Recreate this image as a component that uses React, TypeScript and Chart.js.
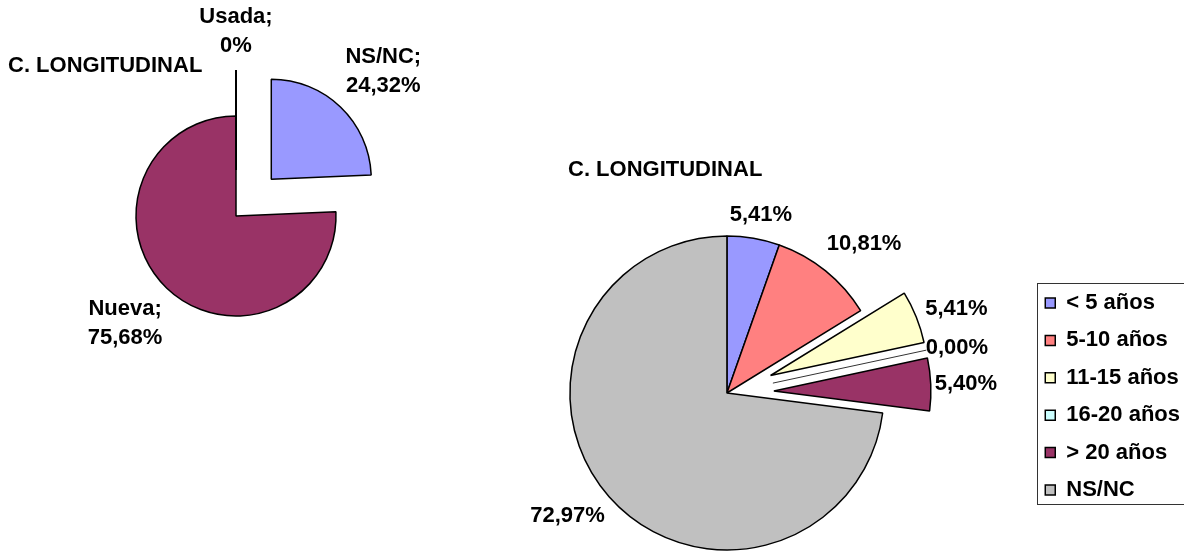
import React, { useEffect, useRef } from "react";
import { Chart, registerables } from "chart.js";

Chart.register(...registerables);

const FONT_FAMILY = "'Liberation Sans', Arial, Helvetica, sans-serif";

// ---- Left pie data ----
const leftTitle = "C. LONGITUDINAL";
const leftCategories = ["Usada", "NS/NC", "Nueva"];
const leftValues = [0, 24.32, 75.68];

// ---- Right pie data ----
const rightTitle = "C. LONGITUDINAL";
const rightCategories = ["< 5 años", "5-10 años", "11-15 años", "16-20 años", "> 20 años", "NS/NC"];
const rightValues = [5.41, 10.81, 5.41, 0, 5.4, 72.97];

// ---- Styles ----
const leftStyle = {
  colors: ["#CCFFFF", "#9999FF", "#993366"],
  explode: [46, 51, 0],
  gaps: [13, 24, 23],
};
const rightStyle = {
  colors: ["#9999FF", "#FF8080", "#FFFFCC", "#CCFFFF", "#993366", "#C0C0C0"],
  explode: [0, 0, 47, 47, 47, 0],
  gaps: [13, 24, 12, 0, 4, 18],
};

const fmtNum = (v: number) => v.toFixed(2).replace(".", ",") + "%";
const leftFormatter = (cat: string, v: number) => [cat + ";", v === 0 ? "0%" : fmtNum(v)];
const rightFormatter = (_cat: string, v: number) => [fmtNum(v)];

const pieExtras = {
  id: "pieExtras",
  afterDatasetsUpdate(chart: any, _args: any, opts: any) {
    const meta = chart.getDatasetMeta(0);
    const ex = opts.explode || [];
    meta.data.forEach((arc: any, i: number) => {
      const d = ex[i] || 0;
      if (!d) return;
      const mid = (arc.startAngle + arc.endAngle) / 2;
      arc.x += Math.cos(mid) * d;
      arc.y += Math.sin(mid) * d;
    });
  },
  afterDatasetsDraw(chart: any, _args: any, opts: any) {
    const ctx = chart.ctx;
    const meta = chart.getDatasetMeta(0);
    const values = chart.data.datasets[0].data as number[];
    const labels = chart.data.labels as string[];
    const ex = opts.explode || [];
    const gaps = opts.gaps || [];
    const ca = chart.chartArea;
    const cx = (ca.left + ca.right) / 2;
    const cy = (ca.top + ca.bottom) / 2;
    ctx.save();
    // zero-size exploded slices drawn as radial lines
    meta.data.forEach((arc: any, i: number) => {
      if (values[i] !== 0 || !ex[i]) return;
      const a = arc.startAngle;
      ctx.beginPath();
      ctx.moveTo(arc.x, arc.y);
      ctx.lineTo(arc.x + Math.cos(a) * arc.outerRadius, arc.y + Math.sin(a) * arc.outerRadius);
      ctx.strokeStyle = opts.zeroLineColor;
      ctx.lineWidth = opts.zeroLineWidth;
      ctx.stroke();
    });
    // data labels
    ctx.font = `bold ${opts.fontSize}px ${FONT_FAMILY}`;
    ctx.fillStyle = "#000";
    ctx.textAlign = "center";
    ctx.textBaseline = "middle";
    meta.data.forEach((arc: any, i: number) => {
      const lines: string[] = opts.formatter(labels[i], values[i]);
      const mid = (arc.startAngle + arc.endAngle) / 2;
      const dx = Math.cos(mid);
      const dy = Math.sin(mid);
      const dist = (ex[i] || 0) + arc.outerRadius + (gaps[i] ?? 10);
      const w = Math.max(...lines.map((l) => ctx.measureText(l).width));
      const h = (lines.length - 1) * opts.lineHeight + opts.fontSize;
      const bx = cx + dx * dist + (dx * w) / 2;
      const by = cy + dy * dist + (dy * h) / 2;
      lines.forEach((l, k) => {
        ctx.fillText(l, bx, by + (k - (lines.length - 1) / 2) * opts.lineHeight);
      });
    });
    // chart title
    if (opts.title) {
      ctx.textAlign = "left";
      ctx.fillText(opts.title.text, opts.title.x, opts.title.y);
    }
    ctx.restore();
  },
  afterDraw(chart: any, _args: any, opts: any) {
    const lg = chart.legend;
    if (!opts.legendBorder || !lg || !lg.options.display || !lg.legendHitBoxes || !lg.legendHitBoxes.length) return;
    const hb = lg.legendHitBoxes;
    const first = hb[0];
    const last = hb[hb.length - 1];
    const x = Math.round(first.left - 8) + 0.5;
    const y = Math.round(first.top - 9) + 0.5;
    const y2 = Math.round(last.top + last.height + 3) + 0.5;
    const ctx = chart.ctx;
    ctx.save();
    ctx.strokeStyle = "#333333";
    ctx.lineWidth = 1;
    ctx.strokeRect(x, y, chart.width + 10 - x, y2 - y);
    ctx.restore();
  },
};

function makeConfig(
  categories: string[],
  values: number[],
  style: any,
  radius: number,
  extras: any,
  legend: boolean
): any {
  return {
    type: "pie",
    data: {
      labels: categories,
      datasets: [
        {
          data: values,
          backgroundColor: style.colors,
          borderColor: "#000000",
          borderWidth: 1.5,
        },
      ],
    },
    options: {
      responsive: false,
      animation: false,
      events: [],
      radius,
      layout: { padding: 0 },
      plugins: {
        tooltip: { enabled: false },
        title: { display: false },
        legend: {
          display: legend,
          position: "right",
          align: "center",
          title: { display: true, text: "", font: { size: 5, lineHeight: 1 }, padding: { top: 1, bottom: 1 } },
          labels: {
            boxWidth: 10,
            boxHeight: 10,
            padding: 15.4,
            color: "#000000",
            font: { size: 22, weight: "bold", family: FONT_FAMILY },
          },
        },
        pieExtras: {
          explode: style.explode,
          gaps: style.gaps,
          fontSize: 22,
          ...extras,
        },
      },
    },
    plugins: [pieExtras],
  };
}

function PieCanvas(props: { config: () => any; left: number; top: number; width: number; height: number }) {
  const ref = useRef<HTMLCanvasElement>(null);
  useEffect(() => {
    const chart = new Chart(ref.current as HTMLCanvasElement, props.config());
    return () => chart.destroy();
  }, []);
  return (
    <canvas
      ref={ref}
      width={props.width}
      height={props.height}
      style={{
        position: "absolute",
        left: props.left,
        top: props.top,
        width: props.width,
        height: props.height,
      }}
    />
  );
}

export default function App() {
  const leftConfig = () =>
    makeConfig(
      leftCategories,
      leftValues,
      leftStyle,
      100,
      {
        formatter: leftFormatter,
        lineHeight: 29,
        zeroLineColor: "#000000",
        zeroLineWidth: 2,
        title: { text: leftTitle, x: 8, y: 66 },
        legendBorder: false,
      },
      false
    );
  const rightConfig = () =>
    makeConfig(
      rightCategories,
      rightValues,
      rightStyle,
      157,
      {
        formatter: rightFormatter,
        lineHeight: 26,
        zeroLineColor: "#333333",
        zeroLineWidth: 1,
        title: { text: rightTitle, x: 144, y: 169.5 },
        legendBorder: true,
      },
      true
    );
  return (
    <div
      style={{
        position: "fixed",
        left: 0,
        top: 0,
        width: 1184,
        height: 551,
        overflow: "hidden",
        background: "#ffffff",
      }}
    >
      <PieCanvas config={leftConfig} left={0} top={0} width={472} height={432} />
      <PieCanvas config={rightConfig} left={424} top={0} width={766} height={786} />
    </div>
  );
}
